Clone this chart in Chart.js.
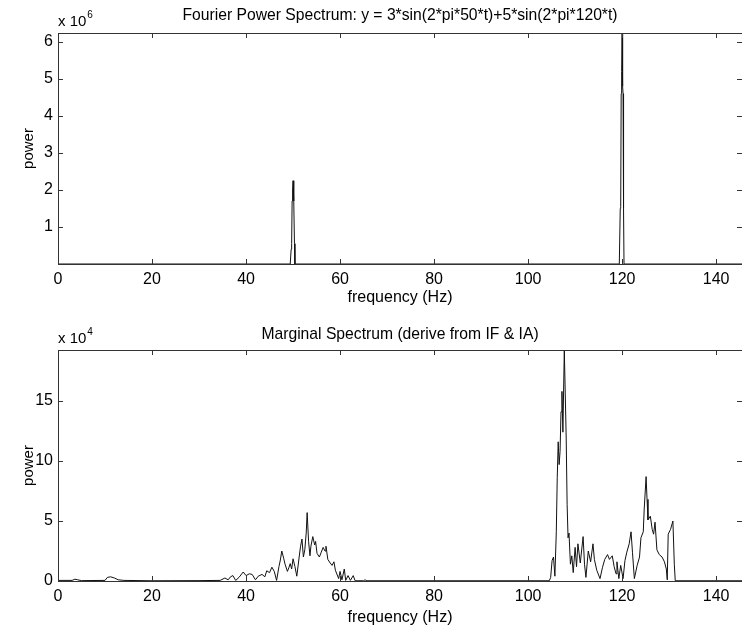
<!DOCTYPE html>
<html>
<head>
<meta charset="utf-8">
<script src="https://cdn.jsdelivr.net/npm/chart.js@4/dist/chart.umd.min.js"></script>
<style>
  html, body { margin: 0; padding: 0; background: #fff; overflow: hidden; }
  canvas { position: absolute; left: 0; }
  #topChart { top: 0; }
  #bottomChart { top: 310px; }
</style>
</head>
<body>
<canvas id="topChart" width="742" height="310"></canvas>
<canvas id="bottomChart" width="742" height="319"></canvas>
<script>
// Fourier power spectrum (power in units of 10^6)
const freqTop = [0, 49.4, 49.6, 49.7, 49.8, 49.9, 50.0, 50.1, 50.2, 50.3, 50.4, 119.4, 119.6, 119.7, 119.8, 119.9, 120.0, 120.1, 120.2, 120.3, 120.4, 145.5];
const powerTop = [0, 0, 0.4, 0.55, 1.7, 2.0, 2.25, 1.9, 1.7, 0.55, 0, 0, 1.5, 1.55, 4.6, 5.2, 6.24, 4.8, 4.6, 1.5, 0, 0];

// Marginal spectrum (power in units of 10^4)
const freqBottom = [
  0, 3, 3.6, 4.2, 5, 10, 10.5, 11.2, 12, 12.8, 14, 20, 30, 34.5, 35.5, 36.2, 36.7, 37.2, 37.8, 38.5,
  39.4, 40.0, 40.7, 41.3, 42.0, 42.6, 43.4, 44.0, 44.4, 45.0, 45.5, 46.0, 46.5, 47.0, 47.3, 47.6,
  48.0, 48.3, 48.8, 49.1, 49.4, 49.7, 50.0, 50.4, 50.8, 51.3, 51.6, 51.9, 52.2, 52.5, 52.8, 53.0,
  53.3, 53.6, 53.8, 54.2, 54.6, 54.8, 55.1, 55.6, 56.0, 56.4, 56.8, 57.0, 57.4, 57.9, 58.3, 58.7,
  59.0, 59.4, 59.7, 60.0, 60.4, 60.9, 61.2, 61.7, 62.2, 62.8, 63.2, 65.0, 65.3, 65.7,
  104.5, 104.8, 105.1, 105.4, 105.7, 106.0, 106.2, 106.4, 106.6, 106.8, 107.0, 107.2, 107.4, 107.7,
  108.1, 108.3, 108.5, 108.7, 109.0, 109.3, 109.6, 110.0, 110.3, 110.6, 111.1, 111.7, 112.0, 112.3,
  112.8, 113.3, 113.8, 114.1, 114.6, 115.3, 115.8, 116.3, 116.9, 117.3, 117.9, 118.3, 118.7, 118.9,
  119.3, 119.7, 120.2, 120.6, 121.0, 121.5, 121.9, 122.2, 122.6, 123.2, 123.7, 124.0, 124.5, 124.7,
  125.1, 125.3, 125.5, 126.0, 126.4, 126.7, 127.0, 127.4, 127.9, 128.5, 129.0, 129.4, 129.6, 129.8,
  130.3, 130.8, 131.1, 131.3, 145.5
];
const powerBottom = [
  0.05, 0.05, 0.15, 0.1, 0.03, 0.05, 0.3, 0.35, 0.25, 0.1, 0.05, 0.02, 0.03, 0.05, 0.25, 0.1, 0.35, 0.45, 0.05, 0.3,
  0.75, 0.45, 0.6, 0.55, 0.1, 0.4, 0.55, 0.35, 0.85, 0.7, 1.15, 0.8, 0.05, 1.2, 1.75, 2.5,
  1.9, 1.4, 0.8, 1.1, 1.45, 1.0, 1.85, 1.2, 0.4, 2.0, 2.9, 3.5, 2.0, 2.6, 4.0, 5.7,
  3.3, 2.1, 2.9, 3.7, 3.0, 3.3, 2.3, 2.0, 2.4, 2.8, 2.5, 2.9, 1.8, 1.5, 1.3, 1.6,
  0.9, 0.5, 0.2, 0.8, 0.1, 1.0, 0.05, 0.45, 0.05, 0.45, 0.02, 0.02, 0.1, 0.02,
  0.02, 0.3, 1.7, 2.0, 0.4, 4.1, 8.6, 11.6, 9.7, 10.8, 14.1, 15.8, 12.4, 19.25,
  12.0, 6.4, 3.6, 4.0, 1.4, 2.1, 0.7, 2.8, 1.2, 3.1, 1.5, 3.7, 1.4, 0.3,
  2.5, 1.6, 3.1, 1.8, 0.9, 0.2, 1.1, 1.8, 2.2, 1.8, 2.1, 1.2, 0.6, 1.6,
  0.2, 1.3, 0.2, 1.7, 2.4, 3.1, 4.1, 2.4, 0.2, 1.3, 2.0, 3.6, 4.1, 6.0,
  8.7, 6.8, 5.1, 5.4, 4.3, 3.9, 4.9, 2.6, 2.2, 2.0, 1.6, 1.0, 0.1, 3.9,
  4.3, 5.0, 1.4, 0.02, 0.02
];

const xTicks = [0, 20, 40, 60, 80, 100, 120, 140];
const yTicksTop = [1, 2, 3, 4, 5, 6];
const yTicksBottom = [0, 5, 10, 15];

const FONT = "'Liberation Sans', Arial, Helvetica, sans-serif";

// MATLAB-style box, inward ticks and "x 10^n" exponent label
const matlabBox = {
  id: 'matlabBox',
  afterDraw(chart, args, opts) {
    const { ctx, chartArea: a, scales } = chart;
    const len = 5;
    ctx.save();
    ctx.strokeStyle = '#333';
    ctx.lineWidth = 1;
    ctx.strokeRect(a.left + 0.5, a.top + 0.5, a.right - a.left, a.bottom - a.top);
    ctx.beginPath();
    scales.x.ticks.forEach(t => {
      const px = Math.round(scales.x.getPixelForValue(t.value)) + 0.5;
      ctx.moveTo(px, a.bottom); ctx.lineTo(px, a.bottom - len);
      ctx.moveTo(px, a.top); ctx.lineTo(px, a.top + len);
    });
    scales.y.ticks.forEach(t => {
      const py = Math.round(scales.y.getPixelForValue(t.value)) + 0.5;
      ctx.moveTo(a.left, py); ctx.lineTo(a.left + len, py);
      ctx.moveTo(a.right, py); ctx.lineTo(a.right - len, py);
    });
    ctx.stroke();

    ctx.fillStyle = '#000';
    ctx.textBaseline = 'alphabetic';
    ctx.font = '15px ' + FONT;
    ctx.fillText('x 10', a.left, a.top - 7);
    const w = ctx.measureText('x 10').width;
    ctx.font = '10px ' + FONT;
    ctx.fillText(opts.exp, a.left + w + 1, a.top - 15);
    ctx.restore();
  }
};

function makeChart(id, freq, power, yMax, yTicks, title, exp, titlePad, xHeight, xTitlePad) {
  const ctx = document.getElementById(id).getContext('2d');
  return new Chart(ctx, {
    type: 'line',
    data: {
      datasets: [{
        data: freq.map((f, i) => ({ x: f, y: power[i] })),
        borderColor: '#111',
        borderWidth: 1,
        pointRadius: 0,
        tension: 0,
        fill: false
      }]
    },
    options: {
      responsive: false,
      animation: false,
      devicePixelRatio: 1,
      layout: { padding: 0 },
      scales: {
        x: {
          type: 'linear',
          min: 0,
          max: 145.5,
          afterBuildTicks: s => { s.ticks = xTicks.map(v => ({ value: v })); },
          afterFit: s => { s.height = xHeight; },
          grid: { display: false, drawTicks: false },
          border: { display: false },
          ticks: { color: '#000', padding: 6, maxRotation: 0, font: { size: 16, family: FONT } },
          title: {
            display: true,
            text: 'frequency (Hz)',
            color: '#000',
            font: { size: 16, family: FONT },
            padding: { top: 0, bottom: xTitlePad }
          }
        },
        y: {
          min: 0,
          max: yMax,
          afterBuildTicks: s => { s.ticks = yTicks.map(v => ({ value: v })); },
          afterFit: s => { s.width = 58; },
          grid: { display: false, drawTicks: false },
          border: { display: false },
          ticks: { color: '#000', padding: 5, font: { size: 16, family: FONT } },
          title: {
            display: true,
            text: 'power',
            color: '#000',
            font: { size: 15, family: FONT },
            padding: { top: 20, bottom: 0 }
          }
        }
      },
      plugins: {
        legend: { display: false },
        tooltip: { enabled: false },
        title: {
          display: true,
          fullSize: false,
          text: title,
          color: '#000',
          font: { size: 15.7, weight: 'normal', family: FONT, lineHeight: 1.2 },
          padding: titlePad
        },
        matlabBox: { exp: exp }
      }
    },
    plugins: [matlabBox]
  });
}

makeChart('topChart', freqTop, powerTop, 6.24, yTicksTop,
  'Fourier Power Spectrum: y = 3*sin(2*pi*50*t)+5*sin(2*pi*120*t)', '6',
  { top: 6.5, bottom: 7.66 }, 46, 3);

makeChart('bottomChart', freqBottom, powerBottom, 19.25, yTicksBottom,
  'Marginal Spectrum (derive from IF & IA)', '4',
  { top: 15.5, bottom: 5.66 }, 48, 2);
</script>
</body>
</html>
